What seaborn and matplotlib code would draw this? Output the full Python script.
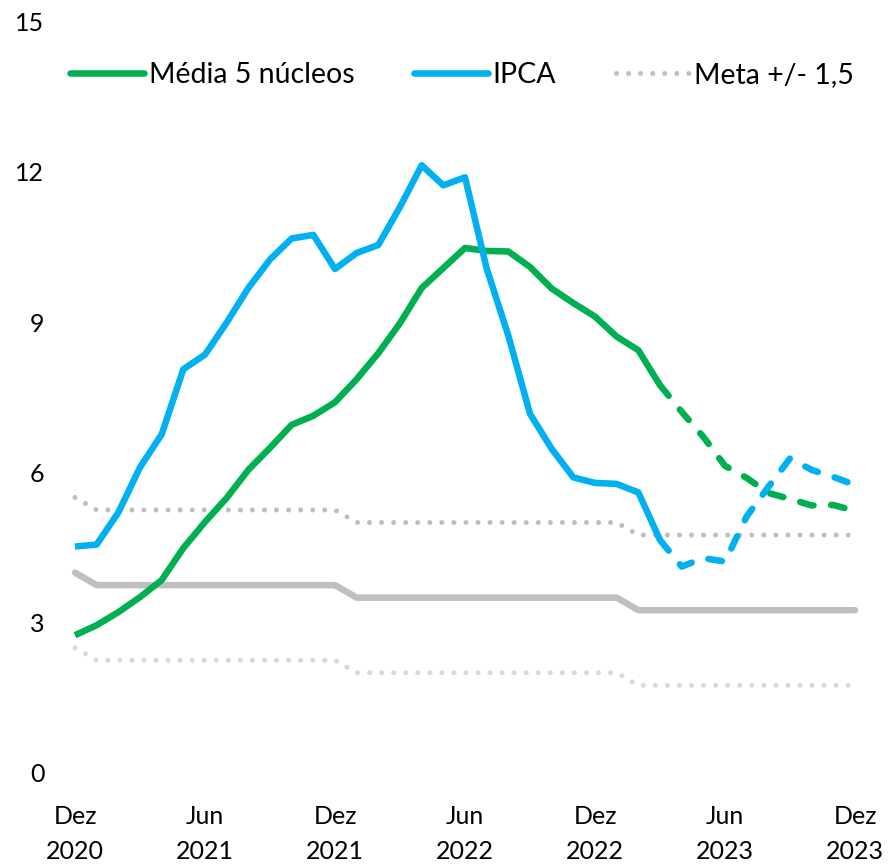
import numpy as np
import pandas as pd
import matplotlib
matplotlib.use("Agg")
import matplotlib.pyplot as plt
import seaborn as sns
from matplotlib.lines import Line2D

# ---------------- data ----------------
months = list(range(37))  # Dez 2020 .. Dez 2023
tick_pos = [0, 6, 12, 18, 24, 30, 36]
tick_labels = ["Dez\n2020", "Jun\n2021", "Dez\n2021", "Jun\n2022", "Dez\n2022", "Jun\n2023", "Dez\n2023"]

nucleos = [2.75, 2.95, 3.21, 3.51, 3.85, 4.49, 5.01, 5.49, 6.05, 6.49, 6.95, 7.13, 7.40,
           7.86, 8.38, 8.98, 9.68, 10.08, 10.48, 10.42, 10.41, 10.10, 9.67, 9.38, 9.11,
           8.71, 8.44, 7.74, 7.21, 6.71, 6.13, 5.89, 5.59, 5.47, 5.34, 5.35, 5.23]
ipca = [4.52, 4.56, 5.20, 6.10, 6.76, 8.06, 8.35, 8.99, 9.68, 10.25, 10.67, 10.74, 10.06,
        10.38, 10.54, 11.30, 12.13, 11.73, 11.89, 10.07, 8.73, 7.17, 6.47, 5.90, 5.79,
        5.77, 5.60, 4.65, 4.12, 4.29, 4.22, 5.12, 5.71, 6.28, 6.05, 5.91, 5.75]
meta = [4.0] + [3.75] * 12 + [3.5] * 13 + [3.25] * 11
last_actual = 27  # Mar 2023; projections afterwards

df = pd.DataFrame({"mes": months, "nucleos": nucleos, "ipca": ipca, "meta": meta})
df["sup"] = df["meta"] + 1.5
df["inf"] = df["meta"] - 1.5
act = df[df["mes"] <= last_actual]
proj = df[df["mes"] >= last_actual]

# ---------------- style ----------------
sns.set_theme(style="white")
plt.rcParams["font.family"] = ["Lato", "DejaVu Sans"]

GREEN = "#00B050"
BLUE = "#00B0F0"
GRAY = "#BFBFBF"
LGRAY = "#D9D9D9"
FS = 18

fig = plt.figure(figsize=(8.88, 8.67), dpi=100)
ax = fig.add_axes([75 / 888, 94 / 867, 780 / 888, 751.5 / 867])

lw = 4.7
dot = (0, (0.01, 2.4))
dash = (0, (2.1, 2.7))

sns.lineplot(data=df, x="mes", y="sup", ax=ax, color=GRAY, lw=3.6, linestyle=dot,
             dash_capstyle="round", clip_on=False)
sns.lineplot(data=df, x="mes", y="inf", ax=ax, color=LGRAY, lw=3.6, linestyle=dot,
             dash_capstyle="round", clip_on=False)
sns.lineplot(data=df, x="mes", y="meta", ax=ax, color=GRAY, lw=lw, clip_on=False)

sns.lineplot(data=act, x="mes", y="nucleos", ax=ax, color=GREEN, lw=lw,
             solid_capstyle="butt", clip_on=False)
sns.lineplot(data=proj, x="mes", y="nucleos", ax=ax, color=GREEN, lw=lw, linestyle=dash,
             dash_capstyle="round", clip_on=False)
sns.lineplot(data=act, x="mes", y="ipca", ax=ax, color=BLUE, lw=lw,
             solid_capstyle="butt", clip_on=False)
sns.lineplot(data=proj, x="mes", y="ipca", ax=ax, color=BLUE, lw=lw, linestyle=dash,
             dash_capstyle="round", clip_on=False)

ax.set_xlim(0, 36)
ax.set_ylim(0, 15)
ax.set_yticks([0, 3, 6, 9, 12, 15])
ax.set_yticklabels(["0", "3", "6", "9", "12", "15"])
ax.set_xticks(tick_pos)
ax.set_xticklabels(tick_labels)
for t in ax.get_xticklabels():
    t.set_linespacing(1.62)
ax.tick_params(axis="y", length=0, pad=22, labelsize=FS, labelcolor="black")
ax.tick_params(axis="x", length=0, pad=23, labelsize=FS, labelcolor="black")
ax.set_xlabel("")
ax.set_ylabel("")
for s in ax.spines.values():
    s.set_visible(False)
ax.grid(False)
if ax.get_legend():
    ax.get_legend().remove()

handles = [
    Line2D([], [], color=GREEN, lw=lw, solid_capstyle="round"),
    Line2D([], [], color=BLUE, lw=lw, solid_capstyle="round"),
    Line2D([], [], color=GRAY, lw=3.6, linestyle=dot, dash_capstyle="round"),
]
labels = ["Média 5 núcleos", "IPCA", "Meta +/- 1,5"]
fig.legend(handles, labels, loc="center", bbox_to_anchor=(462 / 888, 1 - 75 / 867),
           ncol=3, frameon=False, fontsize=20.5, handlelength=2.6, handletextpad=0.15,
           columnspacing=2.1, borderpad=0, labelcolor="black")

fig.savefig("out.png", dpi=100, facecolor="white")
